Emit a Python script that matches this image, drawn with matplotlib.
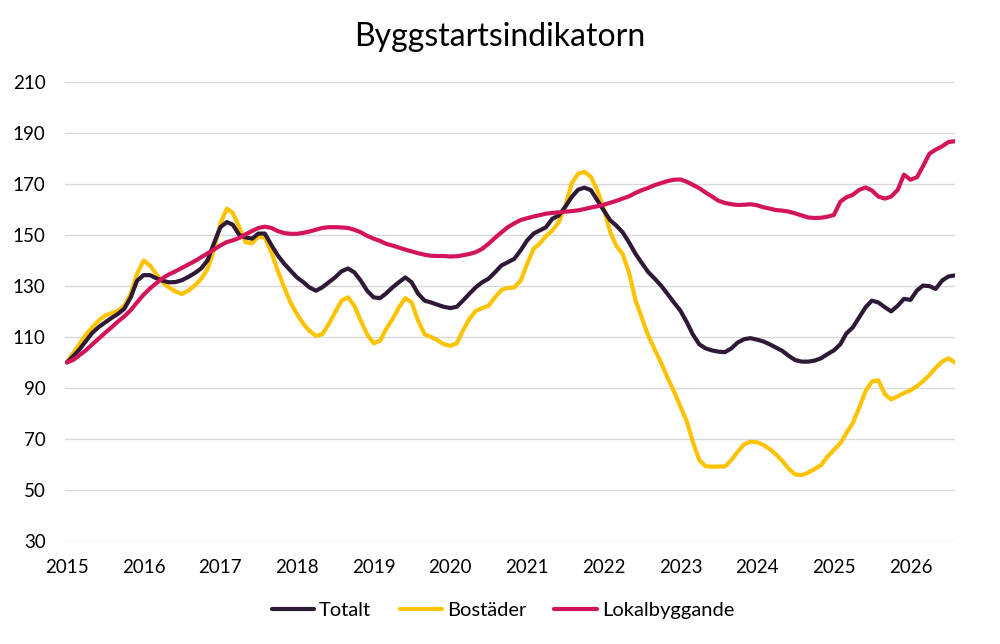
import matplotlib
matplotlib.use("Agg")

import matplotlib.pyplot as plt
import matplotlib.dates as mdates
import pandas as pd

plt.rcParams["font.family"] = ["Lato", "DejaVu Sans"]

# månadsvärden, jan 2015 - aug 2026 (index 2015 = 100)
months = pd.date_range("2015-01-01", periods=140, freq="MS")

totalt = [
    100, 102.5, 105, 108.3, 111.5, 113.8, 115.6, 117.4, 119, 121, 125.5, 132,
    134.2, 134.2, 133, 132, 131.4, 131.5, 132.2, 133.5, 135, 136.8, 140, 146.6,
    153, 155, 154, 150, 149, 148.5, 150.5, 150.5, 146, 142, 138.7, 136,
    133.3, 131.4, 129.4, 128.1, 129.4, 131.4, 133.3, 135.7, 136.8, 135.3, 132, 128.1,
    125.5, 125.2, 127, 129.4, 131.4, 133.3, 131.4, 126.9, 124.2, 123.5, 122.6, 121.8,
    121.3, 121.8, 124.2, 126.9, 129.4, 131.4, 132.8, 135.3, 138, 139.3, 140.6, 143.9,
    147.8, 150.5, 151.7, 153, 156.3, 157.6, 160.9, 164.8, 167.7, 168.5, 167.5, 163.6,
    159.6, 155.7, 153.7, 151, 147.1, 142.6, 139, 135.4, 132.8, 130.1, 126.8, 123.5,
    120.3, 115.7, 111, 107.1, 105.5, 104.7, 104.2, 104, 105.5, 107.8, 109.1, 109.5,
    108.9, 108.2, 107.1, 105.8, 104.5, 102.5, 100.9, 100.3, 100.3, 100.7, 101.6, 103.2,
    104.7, 107.1, 111.3, 113.7, 117.6, 121.6, 124.2, 123.5, 121.6, 120, 122.2, 124.9,
    124.5, 128.2, 130.1, 129.9, 128.8, 132.1, 133.7, 134.1,
]

bostader = [
    100, 103.8, 107.1, 110.8, 113.7, 116.3, 118.3, 119.3, 120.2, 122.2, 126.8, 134.7,
    139.9, 138, 134.7, 131.4, 129.4, 127.8, 126.8, 128.1, 130.1, 132.7, 136.6, 143.9,
    154.4, 160.3, 158.6, 153, 147.1, 146.7, 149.4, 148.8, 143.2, 136, 129.4, 123.5,
    118.9, 115, 112.4, 110.4, 111, 115, 119.6, 124.2, 125.5, 122.2, 116.3, 111,
    107.5, 108.5, 113, 117, 121.5, 125.2, 123.5, 116.3, 111, 110, 108.7, 107.1,
    106.5, 107.5, 112.4, 117, 120.2, 121.3, 122.2, 125.5, 128.4, 129.2, 129.4, 132,
    138.6, 144.5, 146.5, 149.5, 151.7, 155, 160.9, 170.1, 174, 174.7, 172.7, 167.5,
    160.3, 151.1, 145.8, 142.5, 135.3, 124.5, 117.5, 110.5, 105, 99.9, 94, 88.7,
    82.8, 76.8, 68.9, 61.7, 59.3, 59.1, 59.2, 59.2, 61.7, 65, 67.9, 68.9,
    68.7, 67.6, 66, 63.9, 61.3, 58.2, 56.1, 55.8, 56.8, 58.2, 59.7, 63,
    65.7, 68.3, 72.2, 76.2, 82.1, 88.7, 92.5, 93, 87.5, 85.5, 86.7, 88,
    89, 90.7, 92.6, 95, 97.9, 100.3, 101.6, 99.9,
]

lokal = [
    100, 101, 102.8, 104.7, 107, 109.3, 111.5, 113.7, 116, 118, 120.5, 123.5,
    126.5, 129, 131, 133, 134.5, 135.7, 137, 138.3, 139.7, 141.2, 142.8, 144.3,
    145.8, 147.2, 147.8, 148.8, 150.2, 151.5, 152.7, 153.2, 152.7, 151.5, 150.7, 150.4,
    150.4, 150.8, 151.3, 152, 152.7, 153, 153, 152.9, 152.7, 152, 151, 149.6,
    148.5, 147.6, 146.5, 145.8, 145, 144.2, 143.5, 142.8, 142.2, 141.8, 141.7, 141.7,
    141.5, 141.6, 142, 142.5, 143.2, 144.5, 146.5, 148.8, 151, 153, 154.5, 155.8,
    156.5, 157.2, 157.7, 158.3, 158.6, 158.8, 159.1, 159.3, 159.6, 160.1, 160.7, 161.2,
    161.8, 162.6, 163.3, 164.2, 165.1, 166.4, 167.5, 168.4, 169.5, 170.3, 171.1, 171.6,
    171.7, 170.8, 169.6, 168.3, 166.6, 165, 163.4, 162.5, 162, 161.7, 161.8, 162,
    161.6, 160.8, 160.3, 159.7, 159.5, 159.1, 158.4, 157.6, 156.8, 156.6, 156.7, 157.1,
    157.8, 163, 164.7, 165.7, 167.6, 168.6, 167.4, 165, 164.2, 165, 167.6, 173.6,
    171.6, 172.6, 176.8, 181.8, 183.4, 184.7, 186.4, 186.7,
]

y_ticks = list(range(30, 211, 20))

fig = plt.figure(figsize=(10, 6.44), dpi=100)
ax = fig.add_axes([0.065, 0.160, 0.890, 0.713])

lw = 3.0
l_bo, = ax.plot(months, bostader, color="#FDC300", lw=lw, label="Bostäder",
                solid_capstyle="round", solid_joinstyle="round")
l_to, = ax.plot(months, totalt, color="#2E1A36", lw=lw, label="Totalt",
                solid_capstyle="round", solid_joinstyle="round")
l_lo, = ax.plot(months, lokal, color="#D4145A", lw=lw, label="Lokalbyggande",
                solid_capstyle="round", solid_joinstyle="round")

ax.set_ylim(30, 210)
ax.set_yticks(y_ticks)
ax.set_xlim(months[0] - pd.Timedelta(days=9), months[-1])
ax.xaxis.set_major_locator(mdates.YearLocator())
ax.xaxis.set_major_formatter(mdates.DateFormatter("%Y"))

ax.grid(axis="y", color="#D9D9D9", lw=1.0)
ax.set_axisbelow(True)
for s in ax.spines.values():
    s.set_visible(False)
ax.tick_params(axis="x", length=0, pad=13, labelsize=13.5, labelcolor="black")
ax.tick_params(axis="y", length=0, pad=14, labelsize=13.5, labelcolor="black")

fig.suptitle("Byggstartsindikatorn", y=0.943, va="center", fontsize=23,
             color="black")

fig.legend(handles=[l_to, l_bo, l_lo], loc="center", bbox_to_anchor=(0.503, 0.052),
           ncol=3, frameon=False, fontsize=14.5, handlelength=2.1,
           handletextpad=0.25, columnspacing=1.4)

plt.savefig("out.png", dpi=100)
